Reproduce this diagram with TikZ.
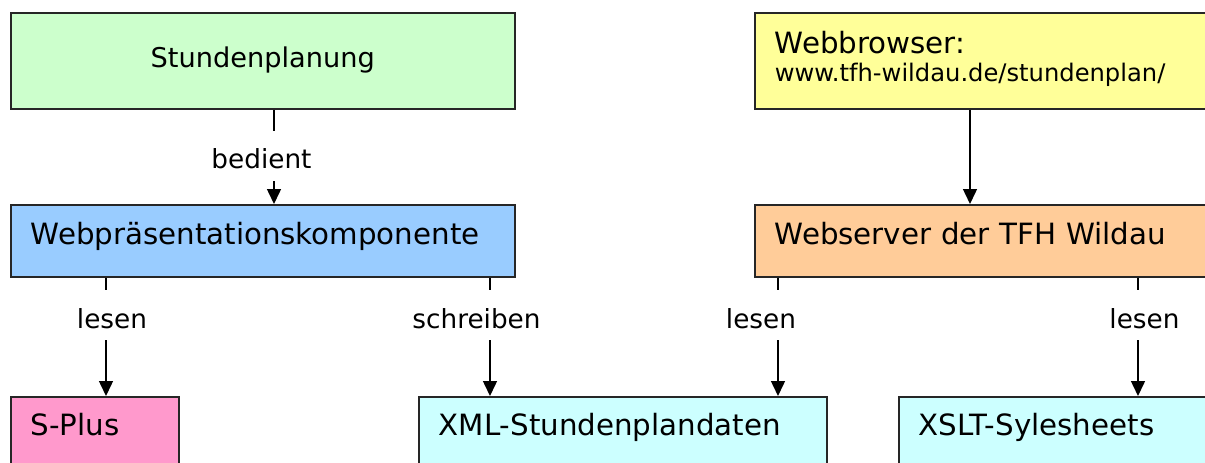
\documentclass[tikz,border=0pt]{standalone}
\usepackage{fontspec}
\setmainfont{DejaVu Sans}
\usetikzlibrary{arrows.meta}
\definecolor{cgreen}{HTML}{CCFFCC}
\definecolor{cyellow}{HTML}{FFFF99}
\definecolor{cblue}{HTML}{99CCFF}
\definecolor{corange}{HTML}{FFCC99}
\definecolor{cpink}{HTML}{FF99CC}
\definecolor{ccyan}{HTML}{CCFFFF}
\newcommand\boxfont{\fontsize{29.3}{34}\selectfont}
\newcommand\titlefont{\fontsize{27.2}{32}\selectfont}
\newcommand\urlfont{\fontsize{24.2}{28}\selectfont}
\newcommand\lblfont{\fontsize{26.3}{30}\selectfont}
\begin{document}
\begin{tikzpicture}[x=1pt,y=-1pt,
  box/.style={draw=black!85, line width=1.5pt, anchor=north west, inner ysep=0pt, inner xsep=20pt, align=left, font=\boxfont},
  lbl/.style={fill=white, anchor=base, inner sep=0pt, font=\lblfont, text height=38pt, text depth=12pt},
  arr/.style={line width=1.5pt, -{Triangle[width=14pt,length=15pt]}}]
\useasboundingbox (0,0) rectangle (1205,463);
\clip (0,0) rectangle (1205,463);
% boxes
\node[box, fill=cgreen, align=center, font=\titlefont, text width=464pt, text height=55pt, text depth=41pt] (sp) at (10,12) {Stundenplanung};
\node[box, fill=cyellow, text width=520pt, text height=41pt, text depth=55pt] (wb) at (754,12)
  {\vtop{\baselineskip=28pt\lineskiplimit=-1000pt\hbox{Webbrowser:}\hbox{\urlfont www.tfh-wildau.de/stundenplan/}}};
\node[box, fill=cblue, text width=464pt, text height=40pt, text depth=32pt] (wp) at (10,204) {Webpräsentationskomponente};
\node[box, fill=corange, text width=520pt, text height=40pt, text depth=32pt] (ws) at (754,204) {Webserver der TFH Wildau};
\node[box, fill=cpink, text width=128pt, text height=39pt, text depth=60pt] (splus) at (10,396) {S-Plus};
\node[box, fill=ccyan, text width=368pt, text height=39pt, text depth=60pt] (xml) at (418,396) {XML-Stundenplandaten};
\node[box, fill=ccyan, text width=420pt, text height=39pt, text depth=60pt] (xslt) at (898,396) {XSLT-Sylesheets};
% x positions of connectors
\coordinate (x1) at (274,0);
\coordinate (x2) at (970,0);
\coordinate (x3) at (106,0);
\coordinate (x4) at (490,0);
\coordinate (x5) at (778,0);
\coordinate (x6) at (1138,0);
% connectors
\draw[arr] (sp.south -| x1) -- (wp.north -| x1);
\draw[arr] (wb.south -| x2) -- (ws.north -| x2);
\draw[arr] (wp.south -| x3) -- (splus.north -| x3);
\draw[arr] (wp.south -| x4) -- (xml.north -| x4);
\draw[arr] (ws.south -| x5) -- (xml.north -| x5);
\draw[arr] (ws.south -| x6) -- (xslt.north -| x6);
% labels
\node[lbl, text height=37pt, text depth=13pt] (l1) at (261.5,168) {bedient};
\node[lbl] (l2) at (112,328) {lesen};
\node[lbl] (l3) at (476.5,328) {schreiben};
\node[lbl] (l4) at (761,328) {lesen};
\node[lbl] (l5) at (1144.5,328) {lesen};
\end{tikzpicture}
\end{document}
